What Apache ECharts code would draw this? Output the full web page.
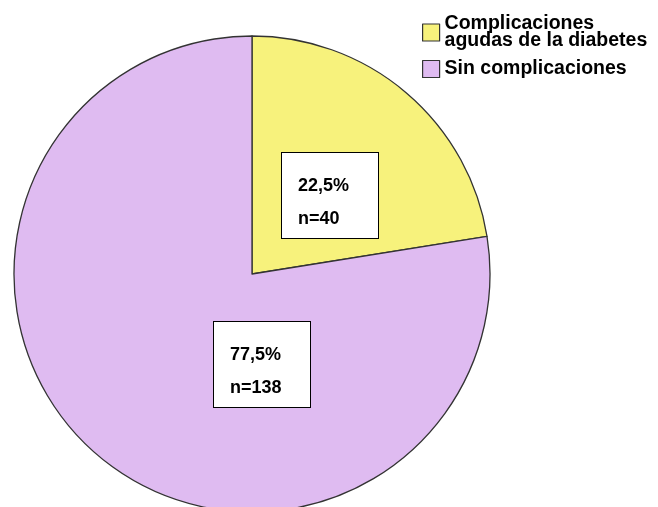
<!DOCTYPE html>
<html>
<head>
<meta charset="utf-8">
<script src="https://cdn.jsdelivr.net/npm/echarts@6/dist/echarts.min.js"></script>
<style>
html,body{margin:0;padding:0;background:#fff;}
#chart{width:658px;height:507px;}
</style>
</head>
<body>
<div id="chart"></div>
<script>
var categories = ['Complicaciones\nagudas de la diabetes', 'Sin complicaciones'];
var counts = [40, 138];
var colors = ['#F7F27C', '#DFBBF1'];

var total = counts.reduce(function(a, b){ return a + b; }, 0);
var FONT = '"Liberation Sans", Arial, sans-serif';
var labelBoxes = [[282, 153], [214, 322]];

var chart = echarts.init(document.getElementById('chart'));
chart.setOption({
  animation: false,
  legend: {
    orient: 'vertical',
    left: 422,
    top: 14,
    padding: 0,
    itemGap: 8,
    itemWidth: 17,
    itemHeight: 17,
    icon: 'rect',
    selectedMode: false,
    itemStyle: { borderColor: '#333', borderWidth: 1.2 },
    textStyle: { fontFamily: FONT, fontWeight: 'bold', fontSize: 19.5, lineHeight: 17, color: '#000' },
    data: categories
  },
  series: [{
    type: 'pie',
    center: [252, 274],
    radius: 238,
    startAngle: 90,
    clockwise: true,
    silent: true,
    itemStyle: { borderColor: '#333', borderWidth: 1.3 },
    emphasis: { disabled: true },
    labelLine: { show: false },
    label: {
      show: true,
      position: 'inside',
      formatter: function(p) {
        var pct = (p.value / total * 100).toFixed(1).replace('.', ',');
        return pct + '%\nn=' + p.value;
      },
      fontFamily: FONT,
      fontWeight: 'bold',
      fontSize: 18,
      lineHeight: 33,
      color: '#000',
      align: 'left',
      backgroundColor: '#fff',
      borderColor: '#000',
      borderWidth: 1,
      padding: [17, 0, 2, 16],
      width: 80
    },
    labelLayout: function(params) {
      var b = labelBoxes[params.dataIndex];
      return { x: b[0], y: b[1], align: 'left', verticalAlign: 'top' };
    },
    data: categories.map(function(c, i) {
      return { name: c, value: counts[i], itemStyle: { color: colors[i] } };
    })
  }]
});
</script>
</body>
</html>
